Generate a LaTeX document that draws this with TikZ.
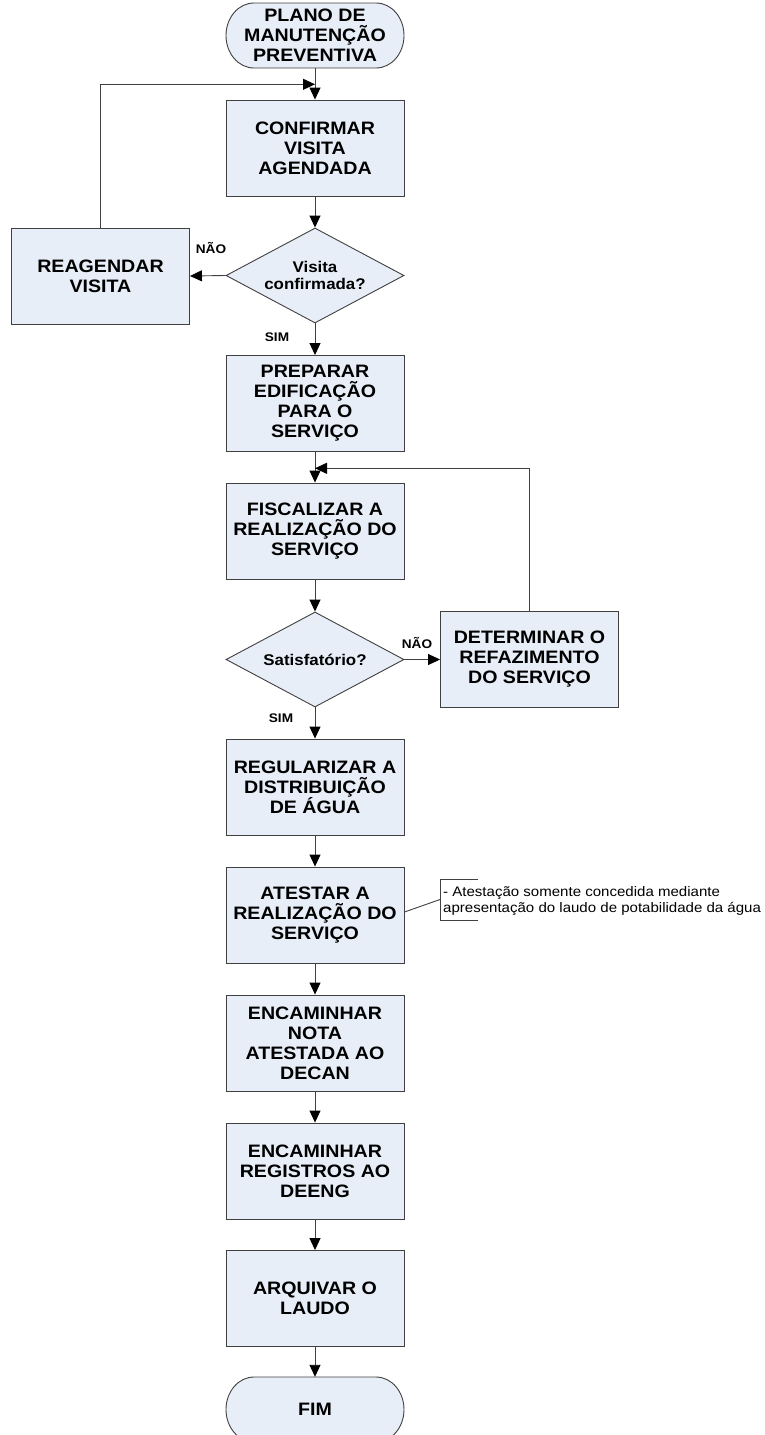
\documentclass[tikz,border=0pt]{standalone}
\usepackage{fontspec}
\setmainfont{Liberation Sans}[FakeStretch=1.09]
\usetikzlibrary{arrows.meta,shapes.geometric,calc}
\definecolor{boxfill}{RGB}{232,238,247}
\definecolor{edge}{RGB}{64,64,64}

\begin{document}
\begin{tikzpicture}[x=1pt,y=-1pt,
  proc/.style={rectangle, draw=edge, fill=boxfill, line width=0.9pt,
    minimum width=178pt, minimum height=96pt, inner sep=0pt, align=center,
    font=\fontsize{18}{20}\selectfont\bfseries},
  dec/.style={diamond, draw=edge, fill=boxfill, line width=0.9pt,
    minimum width=178pt, minimum height=95pt, inner sep=0pt, aspect=1.87,
    align=center, font=\fontsize{15.5}{17.5}\selectfont\bfseries},
  termtext/.style={rectangle, minimum width=178pt, minimum height=65pt,
    inner sep=0pt, align=center, font=\fontsize{18}{20}\selectfont\bfseries},
  termshape/.style={draw=edge, fill=boxfill, line width=0.9pt},
  flow/.style={draw=edge, line width=0.9pt,
    -{Triangle[length=12pt,width=11pt,color=black]}},
  plain/.style={draw=edge, line width=0.9pt},
  lbl/.style={font=\fontsize{12.5}{14}\selectfont\bfseries, inner sep=0pt},
  note/.style={font=\fontsize{13.8}{16}\selectfont, align=left, inner sep=0pt},
]
\useasboundingbox (0,0) rectangle (765,1435);

% start terminal (pill with elliptical ends)
\draw[termshape] (254,3) -- (376,3)
  .. controls (391.5,3) and (404,17.5) .. (404,35.5)
  .. controls (404,53.5) and (391.5,68) .. (376,68) -- (254,68)
  .. controls (238.5,68) and (226,53.5) .. (226,35.5)
  .. controls (226,17.5) and (238.5,3) .. (254,3) -- cycle;
\node[termtext] (start) at (315,35.5) {PLANO DE\\MANUTENÇÃO\\PREVENTIVA};

% end terminal
\draw[termshape] (254,1377) -- (376,1377)
  .. controls (391.5,1377) and (404,1391.5) .. (404,1409.5)
  .. controls (404,1427.5) and (391.5,1442) .. (376,1442) -- (254,1442)
  .. controls (238.5,1442) and (226,1427.5) .. (226,1409.5)
  .. controls (226,1391.5) and (238.5,1377) .. (254,1377) -- cycle;
\node[termtext] (fim) at (315,1409.5) {FIM};

% process steps and decisions
\node[proc] (confirm) at (315,148) {CONFIRMAR\\VISITA\\AGENDADA};
\node[dec]  (d1)      at (315,275.5) {Visita\\confirmada?};
\node[proc] (reag)    at (100.5,276) {REAGENDAR\\VISITA};
\node[proc] (prep)    at (315,403.5) {PREPARAR\\EDIFICAÇÃO\\PARA O\\SERVIÇO};
\node[proc] (fisc)    at (315,531) {FISCALIZAR A\\REALIZAÇÃO DO\\SERVIÇO};
\node[dec]  (d2)      at (315,659.5) {Satisfatório?};
\node[proc] (det)     at (529.5,659.5) {DETERMINAR O\\REFAZIMENTO\\DO SERVIÇO};
\node[proc] (reg)     at (315,787) {REGULARIZAR A\\DISTRIBUIÇÃO\\DE ÁGUA};
\node[proc] (atest)   at (315,915) {ATESTAR A\\REALIZAÇÃO DO\\SERVIÇO};
\node[proc] (nota)    at (315,1043) {ENCAMINHAR\\NOTA\\ATESTADA AO\\DECAN};
\node[proc] (regist)  at (315,1171) {ENCAMINHAR\\REGISTROS AO\\DEENG};
\node[proc] (arq)     at (315,1298.5) {ARQUIVAR O\\LAUDO};

% junction points where the loops rejoin the main line
\coordinate (j1) at (315,84.3);
\coordinate (j2) at (315,468.3);

% main flow
\draw[flow] (start.south) -- (confirm.north);
\draw[flow] (confirm.south) -- (d1.north);
\draw[flow] (d1.west) -- (reag.east);
\draw[flow] (d1.south) -- (prep.north);
\draw[flow] (reag.north) |- (j1);
\draw[flow] (prep.south) -- (fisc.north);
\draw[flow] (fisc.south) -- (d2.north);
\draw[flow] (d2.east) -- (det.west);
\draw[flow] (det.north) |- (j2);
\draw[flow] (d2.south) -- (reg.north);
\draw[flow] (reg.south) -- (atest.north);
\draw[flow] (atest.south) -- (nota.north);
\draw[flow] (nota.south) -- (regist.north);
\draw[flow] (regist.south) -- (arq.north);
\draw[flow] (arq.south) -- (fim.north);

% branch labels
\node[lbl] (n1) at (211,248) {NÃO};
\node[lbl] (s1) at (277,337) {SIM};
\node[lbl] (n2) at (417,643) {NÃO};
\node[lbl] (s2) at (281,718) {SIM};

% annotation attached to the certification step
\coordinate (br) at (440,899.5);
\draw[plain] (478,879) -- (440,879) -- (440,920) -- (478,920);
\draw[plain] ($(atest.east)+(0,-3)$) -- (br);
\node[note, anchor=west] (obs) at (443,901) {- Atestação somente concedida mediante\\apresentação do laudo de potabilidade da água};
\end{tikzpicture}
\end{document}
